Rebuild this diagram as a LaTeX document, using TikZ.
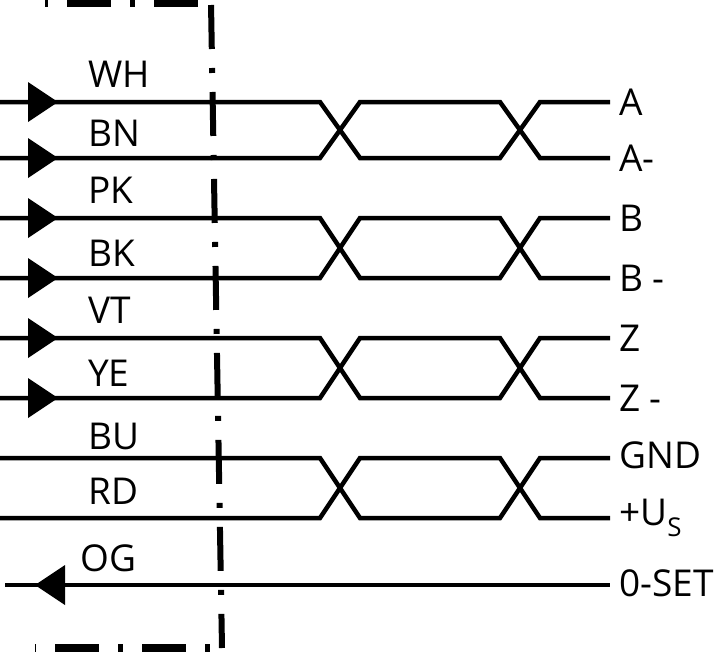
\documentclass[tikz,border=0pt]{standalone}
\usepackage{fontspec}
\setmainfont{Open Sans}
\begin{document}
\begin{tikzpicture}[x=1pt,y=-1pt,
  wire/.style={line width=4.5pt,line join=miter,shorten >=9pt},
  dd/.style={line width=6pt,dash pattern=on 44pt off 19pt on 5pt off 19pt},
  lbl/.style={font=\fontsize{37}{37}\selectfont,inner sep=0pt,anchor=west}]
\useasboundingbox (0,0) rectangle (720,653);
% boundary
\coordinate (t0) at (45,3); \coordinate (t1) at (211,3);
\coordinate (b0) at (35,648); \coordinate (b1) at (222,648);
\draw[dd,line width=8pt,dash phase=-22pt] (t0) -- (t1);
\draw[dd,dash phase=-2pt] (t1) -- (b1);
\draw[dd,line width=8pt,dash phase=-20pt] (b0) -- (b1);
% pairs
\foreach \ya/\yb/\la/\lb/\ra/\rb/\n in {102/158/WH/BN/A/A-/1,218/278/PK/BK/B/B -/2,338/398/VT/YE/Z/Z -/3}{
  \coordinate (s\n a) at (0,\ya); \coordinate (s\n b) at (0,\yb);
  \node[lbl] (r\n a) at (619,\ya) {\ra};
  \node[lbl] (r\n b) at (619,\yb) {\rb};
  \draw[wire] (s\n a) -- (320,\ya) -- (360,\yb) -- (500,\yb) -- (540,\ya) -- (r\n a.west);
  \draw[wire] (s\n b) -- (320,\yb) -- (360,\ya) -- (500,\ya) -- (540,\yb) -- (r\n b.west);
  \fill (58,\ya) -- (28,\ya-20) -- (28,\ya+20) -- cycle;
  \fill (58,\yb) -- (28,\yb-20) -- (28,\yb+20) -- cycle;
  \node[lbl] (l\n a) at (88,\ya-28) {\la};
  \node[lbl] (l\n b) at (88,\yb-25) {\lb};
}
\coordinate (s4a) at (0,458); \coordinate (s4b) at (0,518);
\node[lbl] (r4a) at (619,455) {GND};
\node[lbl] (r4b) at (619,518) {+U\textsubscript{S}};
\draw[wire] (s4a) -- (320,458) -- (360,518) -- (500,518) -- (540,458) -- (r4a.west |- 0,458);
\draw[wire] (s4b) -- (320,518) -- (360,458) -- (500,458) -- (540,518) -- (r4b.west);
\node[lbl] (l4a) at (88,436) {BU};
\node[lbl] (l4b) at (88,491) {RD};
% 0-SET
\coordinate (s5) at (5,585);
\node[lbl] (r5) at (619,583) {0-SET};
\draw[wire] (s5) -- (r5.west |- 0,585);
\fill (35,585) -- (65,565) -- (65,605) -- cycle;
\node[lbl] (l5) at (80,558) {OG};
\end{tikzpicture}
\end{document}
